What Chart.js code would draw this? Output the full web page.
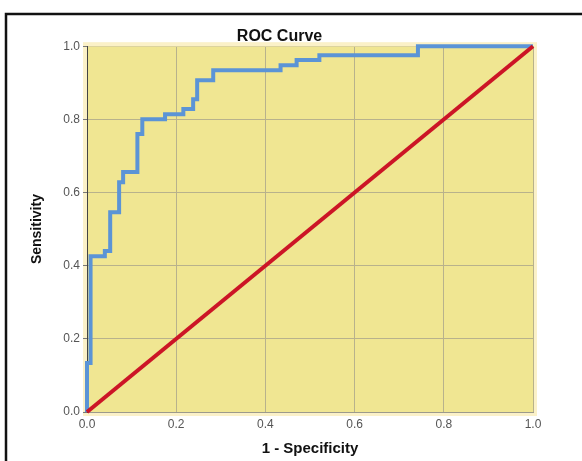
<!DOCTYPE html>
<html>
<head>
<meta charset="utf-8">
<script src="https://cdn.jsdelivr.net/npm/chart.js@4/dist/chart.umd.min.js"></script>
<style>
  html, body { margin: 0; padding: 0; background: #fff; }
  #chart-container { width: 582px; height: 461px; }
</style>
</head>
<body>
<div id="chart-container"><canvas id="roc" width="582" height="461"></canvas></div>
<script>
// ROC curve corners (1 - specificity, sensitivity)
const fpr = [0, 0, 0.008, 0.040, 0.052, 0.072, 0.081, 0.113, 0.124, 0.175, 0.216, 0.238, 0.247, 0.283, 0.434, 0.470, 0.521, 0.742, 1.0];
const tpr = [0, 0.134, 0.426, 0.440, 0.546, 0.628, 0.656, 0.760, 0.800, 0.814, 0.828, 0.855, 0.907, 0.934, 0.948, 0.962, 0.975, 1.0, 1.0];
// reference line
const refX = [0, 1];
const refY = [0, 1];
const tickValues = [0, 0.2, 0.4, 0.6, 0.8, 1.0];

const rocPoints = fpr.map((x, i) => ({ x: x, y: tpr[i] }));
const refPoints = refX.map((x, i) => ({ x: x, y: refY[i] }));

// yellow plot background + outer frame lines
const backdrop = {
  id: 'backdrop',
  beforeDraw(chart) {
    const { ctx, chartArea: a } = chart;
    ctx.save();
    ctx.fillStyle = '#fff';
    ctx.fillRect(0, 0, chart.width, chart.height);
    ctx.strokeStyle = '#FBF1C8';
    ctx.lineWidth = 4;
    ctx.strokeRect(a.left - 2, a.top - 2, a.right - a.left + 4, a.bottom - a.top + 4);
    ctx.fillStyle = '#F0E692';
    ctx.fillRect(a.left, a.top, a.right - a.left, a.bottom - a.top);
    ctx.strokeStyle = '#111';
    ctx.lineWidth = 2.5;
    ctx.beginPath();
    ctx.moveTo(6, chart.height);
    ctx.lineTo(6, 14);
    ctx.lineTo(chart.width, 14);
    ctx.stroke();
    ctx.restore();
  }
};

const canvas = document.getElementById('roc');
const chart = new Chart(canvas, {
  type: 'scatter',
  data: {
    datasets: [
      {
        label: 'Reference',
        data: refPoints,
        showLine: true,
        borderColor: '#CC1526',
        borderWidth: 4,
        pointRadius: 0,
        clip: 4
      },
      {
        label: 'ROC',
        data: rocPoints,
        showLine: true,
        stepped: 'before',
        borderColor: '#5B94D6',
        borderWidth: 4,
        pointRadius: 0,
        clip: 4
      }
    ]
  },
  options: {
    responsive: false,
    animation: false,
    layout: { padding: { top: 20, left: 26, right: 49, bottom: 3 } },
    plugins: {
      legend: { display: false },
      tooltip: { enabled: false },
      title: {
        display: true,
        text: 'ROC Curve',
        color: '#111',
        font: { family: 'Liberation Sans, Arial, sans-serif', size: 16, weight: 'bold' },
        padding: { top: 7, bottom: 0 }
      }
    },
    scales: {
      x: {
        type: 'linear',
        min: 0,
        max: 1,
        afterFit(scale) { scale.height = 46; },
        afterBuildTicks(scale) { scale.ticks = tickValues.map(v => ({ value: v })); },
        ticks: {
          color: '#555',
          padding: 5,
          font: { family: 'Liberation Sans, Arial, sans-serif', size: 12 },
          callback: v => Number(v).toFixed(1)
        },
        grid: { color: '#B8B28C', drawTicks: false },
        border: { color: '#9C9A8C', width: 1 },
        title: {
          display: true,
          text: '1 - Specificity',
          color: '#111',
          font: { family: 'Liberation Sans, Arial, sans-serif', size: 15, weight: 'bold' },
          padding: { top: 0, bottom: 0 }
        }
      },
      y: {
        type: 'linear',
        min: 0,
        max: 1,
        afterFit(scale) { scale.width = 61; },
        afterBuildTicks(scale) { scale.ticks = tickValues.map(v => ({ value: v })); },
        ticks: {
          color: '#555',
          padding: 3,
          font: { family: 'Liberation Sans, Arial, sans-serif', size: 12 },
          callback: v => Number(v).toFixed(1)
        },
        grid: {
          color: ctx => (ctx.tick && ctx.tick.value === 1 ? '#DCD39E' : '#B8B28C'),
          tickColor: '#777',
          tickLength: 4
        },
        border: { color: '#444', width: 1 },
        title: {
          display: true,
          text: 'Sensitivity',
          color: '#111',
          font: { family: 'Liberation Sans, Arial, sans-serif', size: 14, weight: 'bold' },
          padding: { top: 3, bottom: 0 }
        }
      }
    }
  },
  plugins: [backdrop]
});
</script>
</body>
</html>
